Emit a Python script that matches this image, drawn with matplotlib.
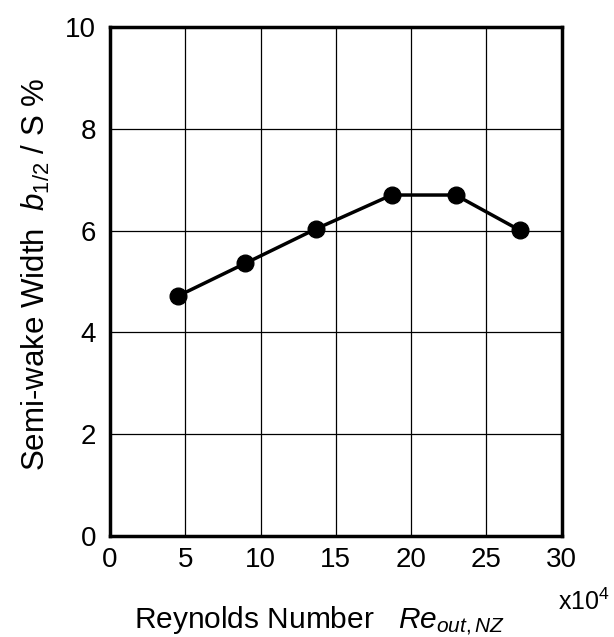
import numpy as np
import matplotlib
matplotlib.use('Agg')
from matplotlib import pyplot as plt

plt.rcParams['font.family'] = ['Liberation Sans', 'DejaVu Sans']
plt.rcParams['mathtext.fontset'] = 'custom'
plt.rcParams['mathtext.rm'] = 'Liberation Sans'
plt.rcParams['mathtext.it'] = 'Liberation Sans:italic'

# Reynolds number (x10^4) vs semi-wake width b1/2/S (%)
reynolds = [4.55, 9.0, 13.65, 18.7, 22.95, 27.2]
semi_wake = [4.72, 5.36, 6.03, 6.70, 6.70, 6.01]

x_ticks = [0, 5, 10, 15, 20, 25, 30]
y_ticks = [0, 2, 4, 6, 8, 10]

fig = plt.figure(figsize=(6.14, 6.37), dpi=100)
ax = fig.add_axes([0.179, 0.1585, 0.736, 0.799])

ax.plot(reynolds, semi_wake, '-o', color='black', lw=2.5, ms=12, zorder=3)

ax.set_xlim(0, 30)
ax.set_ylim(0, 10)
ax.set_xticks(x_ticks)
ax.set_yticks(y_ticks)
ax.tick_params(length=0, labelsize=20)
ax.tick_params(axis='y', pad=10)
ax.tick_params(axis='x', pad=8)
ax.grid(True, color='black', lw=0.9)
for s in ax.spines.values():
    s.set_linewidth(2.5)

fig.text(0.52, 0.014, 'Reynolds Number   $Re_{out,NZ}$', fontsize=21.5, ha='center')
fig.text(0.993, 0.042, 'x10$^4$', fontsize=18, ha='right')
fig.text(0.058, 0.57, 'Semi-wake Width  $b_{1/2}$ / S %', fontsize=22.5,
         rotation=90, va='center', ha='center')

fig.savefig('out.png', dpi=100)
